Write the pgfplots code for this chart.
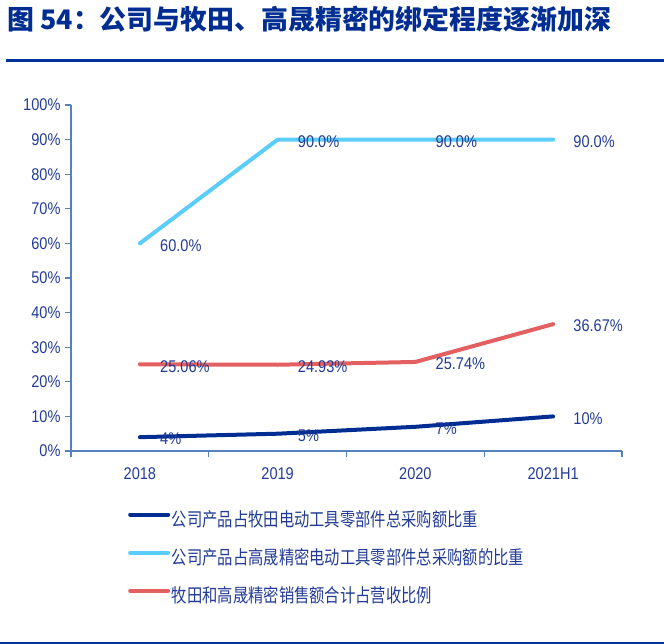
\documentclass[border=0pt]{standalone}
\usepackage{fontspec}
\setmainfont{Liberation Sans}
\newfontfamily\cjk{Noto Sans CJK SC}
\newfontfamily\cjkn{Noto Sans CJK SC}[FakeStretch=0.81]
\newfontfamily\lab{Liberation Sans}[FakeStretch=0.86]
\usepackage{pgfplots}
\pgfplotsset{compat=1.18}
\definecolor{titleblue}{RGB}{0,45,145}
\definecolor{ruleblue}{RGB}{0,51,153}
\definecolor{axisblue}{RGB}{84,130,190}
\definecolor{textblue}{RGB}{35,60,150}
\definecolor{darkline}{RGB}{0,45,145}
\definecolor{lightline}{RGB}{90,205,250}
\definecolor{redline}{RGB}{228,95,95}
\begin{document}
\begin{tikzpicture}[x=1bp,y=1bp]
\path[use as bounding box] (0,0) rectangle (664,-644);
\node[anchor=base west, text=titleblue, font=\cjk\bfseries\fontsize{27}{32}\selectfont, inner sep=0] at (7,-30) {图 54：公司与牧田、高晟精密的绑定程度逐渐加深};
\draw[ruleblue, line width=3bp] (6,-61) -- (664,-61);
\draw[ruleblue, line width=1.5bp] (0,-643) -- (664,-643);
\begin{axis}[at={(71bp,-451bp)}, anchor=south west, scale only axis, width=551bp, height=346bp,
 xmin=-0.5, xmax=3.5, ymin=0, ymax=100,
 axis x line=bottom, axis y line=left,
 axis line style={axisblue, line width=1.2bp, -},
 xtick={0,1,2,3}, xticklabels={2018,2019,2020,2021H1},
 major x tick style={draw=none},
 minor xtick={-0.5,0.5,1.5,2.5,3.5},
 minor x tick style={axisblue, line width=1.2bp},
 minor tick length=6bp, major tick length=6bp,
 ytick={0,10,...,100},
 yticklabels={0\%,10\%,20\%,30\%,40\%,50\%,60\%,70\%,80\%,90\%,100\%},
 y tick style={axisblue, line width=1.2bp},
 tick align=outside,
 tick label style={font=\lab\fontsize{17}{20}\selectfont, text=textblue},
 xticklabel style={yshift=-7bp},
 yticklabel style={xshift=-1bp},
 clip=false,
 legend style={at={(axis description cs:0.1034,-0.170)}, anchor=north west, draw=none, fill=none,
   font=\cjkn\fontsize{19}{22}\selectfont, text=textblue, row sep=17bp, inner sep=0pt,
   nodes={inner sep=1.5bp, text height=15bp, text depth=3bp}},
 legend cell align=left,
 legend image code/.code={\draw[#1] (0bp,6bp) -- (38bp,6bp);},
 nodes near coords, point meta=explicit symbolic,
 every node near coord/.style={anchor=west, xshift=15bp, yshift=-2bp, text=textblue, font=\lab\fontsize{17}{20}\selectfont},
]
\addplot[darkline, line width=4bp, line cap=round, line join=round] coordinates {(0,4)[4\%] (1,5)[5\%] (2,7)[7\%] (3,10)[10\%]};
\addlegendentry{公司产品占牧田电动工具零部件总采购额比重}
\addplot[lightline, line width=4bp, line cap=round, line join=round] coordinates {(0,60)[60.0\%] (1,90)[90.0\%] (2,90)[90.0\%] (3,90)[90.0\%]};
\addlegendentry{公司产品占高晟精密电动工具零部件总采购额的比重}
\addplot[redline, line width=4bp, line cap=round, line join=round] coordinates {(0,25.06)[25.06\%] (1,24.93)[24.93\%] (2,25.74)[25.74\%] (3,36.67)[36.67\%]};
\addlegendentry{牧田和高晟精密销售额合计占营收比例}
\end{axis}
\end{tikzpicture}
\end{document}
